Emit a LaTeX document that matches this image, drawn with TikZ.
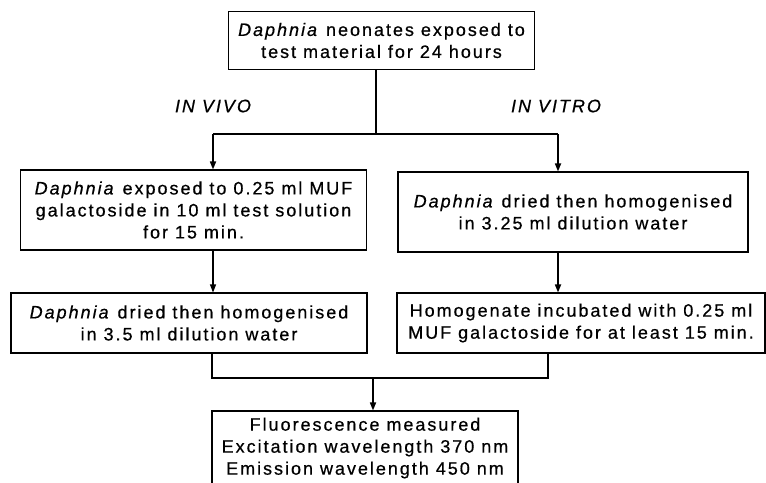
\documentclass[tikz,border=0pt]{standalone}
\usepackage{fontspec}
\setmainfont[LetterSpace=11, FakeBold=0.6]{Liberation Sans}
\usetikzlibrary{arrows.meta}

\tikzset{
  box/.style={draw, line width=0.8pt, align=center, inner sep=0pt,
    font=\fontsize{13.5}{16.5}\selectfont},
  flow/.style={line width=0.8pt},
  arr/.style={line width=1.2pt, -{Triangle[length=6pt,width=4.5pt]}},
  branch/.style={font=\fontsize{13.5}{16.5}\selectfont\itshape}
}

\begin{document}
\begin{tikzpicture}[x=0.75pt, y=-0.75pt]
             \clip (0,0) rectangle (766,482);
             \node (top) [box, minimum width=230pt, minimum height=43pt] at (381.5,40.5) {\textit{Daphnia} neonates exposed to\\test material for 24 hours};
             \node (vivoA) [box, minimum width=260pt, minimum height=60pt] at (193.5,210) {\textit{Daphnia} exposed to 0.25 ml MUF\\galactoside in 10 ml test solution\\for 15 min.};
             \node (vitroA) [box, minimum width=262.5pt, minimum height=60pt] at (573,212) {\textit{Daphnia} dried then homogenised\\in 3.25 ml dilution water};
             \node (vivoB) [box, minimum width=267pt, minimum height=45pt] at (189,323) {\textit{Daphnia} dried then homogenised\\in 3.5 ml dilution water};
             \node (vitroB) [box, minimum width=276pt, minimum height=45pt] at (581,323) {Homogenate incubated with 0.25 ml\\MUF galactoside for at least 15 min.};
             \node (fluor) [box, minimum width=229.5pt, minimum height=55.5pt] at (365,448) {Fluorescence measured\\Excitation wavelength 370 nm\\Emission wavelength 450 nm};
             % split into the two routes
             \coordinate (inL) at (213,134);
             \coordinate (inR) at (558,134);
             \draw [flow] (top.south -| 376,0) -- (376,134);
             \draw [flow] (inL) -- (inR);
             \draw [arr] (inL) -- (inL |- vivoA.north);
             \draw [arr] (inR) -- (inR |- vitroA.north);
             \node (vivo) [branch] at (213,106) {IN VIVO};
             \node (vitro) [branch] at (556,106) {IN VITRO};
             \draw [arr, line width=0.8pt] (vivoA.south -| inL) -- (vivoB.north -| inL);
             \draw [arr] (vitroA.south -| inR) -- (vitroB.north -| inR);
             % both routes join again
             \coordinate (outL) at (212,378);
             \coordinate (outR) at (548,378);
             \draw [flow] (vivoB.south -| outL) -- (outL) -- (outR) -- (vitroB.south -| outR);
             \draw [arr] (373,378) -- (fluor.north -| 373,0);
        \end{tikzpicture}
\end{document}
